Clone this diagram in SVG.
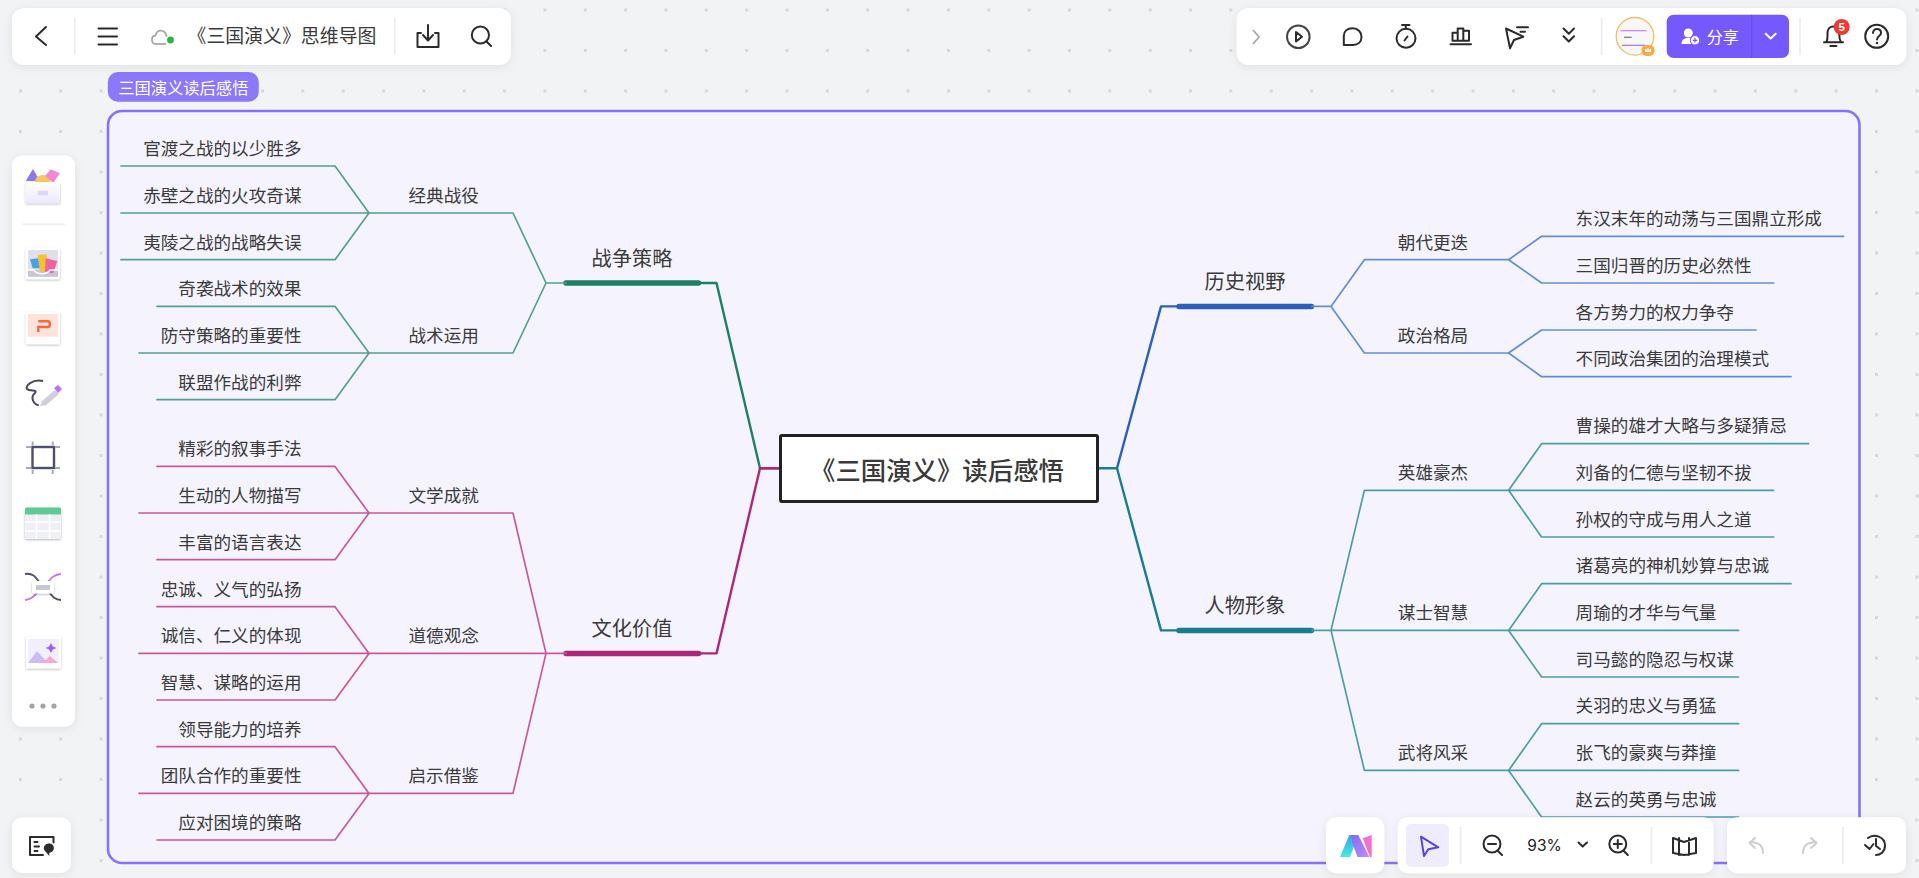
<svg xmlns="http://www.w3.org/2000/svg" width="1919" height="878" viewBox="0 0 1919 878">
<style>
text{font-family:"Noto Sans CJK SC","Noto Sans",sans-serif;fill:#3a3a3a}
.leaf{font-size:17.6px}
.sub{font-size:17.6px;text-anchor:middle}
.main{font-size:20.2px;text-anchor:middle}
.e{text-anchor:end}
.c path{fill:none;stroke-linejoin:round;stroke-linecap:round}
.g1{stroke:#1f7f62;stroke-width:2.4}.g2{stroke:#569f8c;stroke-width:1.7}.gt{stroke:#1f7f62;stroke-width:5.5}
.m1{stroke:#ad2779;stroke-width:2.4}.m2{stroke:#c8589c;stroke-width:1.7}.mt{stroke:#ad2779;stroke-width:5.5}
.b1{stroke:#2a60b9;stroke-width:2.4}.b2{stroke:#648dce;stroke-width:1.7}.bt{stroke:#2a60b9;stroke-width:5.5}
.t1{stroke:#1a7d8e;stroke-width:2.4}.t2{stroke:#4c9ca6;stroke-width:1.7}.tt{stroke:#1a7d8e;stroke-width:5.5}
.panel{fill:#fff;filter:url(#sh)}
.sep{stroke:#ebebee;stroke-width:1.6}
.ic{fill:none;stroke:#2b2b2b;stroke-width:2;stroke-linecap:round;stroke-linejoin:round}
.gr{fill:none;stroke:#cfcfd2;stroke-width:2;stroke-linecap:round;stroke-linejoin:round}
</style>
<defs>
<pattern id="dots" x="18.9" y="8.5" width="40.35" height="40.5" patternUnits="userSpaceOnUse"><rect width="3" height="3" fill="#d6d7db"/></pattern>
<filter id="sh" x="-20%" y="-40%" width="140%" height="190%"><feDropShadow dx="0" dy="2" stdDeviation="5" flood-color="#000" flood-opacity="0.08"/></filter>
<filter id="sm" x="-30%" y="-30%" width="160%" height="170%"><feDropShadow dx="0" dy="1" stdDeviation="1.2" flood-color="#000" flood-opacity="0.28"/></filter>
<linearGradient id="box" x1="0" y1="0" x2="0" y2="1"><stop offset="0" stop-color="#fff"/><stop offset="1" stop-color="#ece8fd"/></linearGradient>
<linearGradient id="lg1" x1="0" y1="0" x2="0" y2="1"><stop offset="0" stop-color="#3a9bf5"/><stop offset="1" stop-color="#45f0d8"/></linearGradient>
<linearGradient id="lg2" x1="0" y1="0" x2="1" y2="1"><stop offset="0" stop-color="#7f6cf8"/><stop offset="1" stop-color="#c58cf8"/></linearGradient>
</defs>
<rect width="1919" height="878" fill="#f2f3f5"/>
<rect width="1919" height="878" fill="url(#dots)"/>

<g id="frame">
<rect x="108" y="111" width="1751.5" height="752" rx="14" fill="#f5f4fe" stroke="#8572fa" stroke-width="2.6"/>
<rect x="107.8" y="72" width="151" height="29.7" rx="10" fill="#8b78fb"/>
<text x="183.3" y="94" font-size="16.3" text-anchor="middle" style="fill:#fff">三国演义读后感悟</text>
</g>

<g id="connectors" class="c">
<path class="g1" d="M780 468.3H760L716.5 283H701"/>
<path class="gt" d="M566 283H698.500"/>
<path class="g2" d="M566 283H546L513 213H369M546 283L513 353H369"/>
<path class="g2" d="M369 213L335 166H121M369 213H121M369 213L335 259.7H121"/>
<path class="g2" d="M369 353L335 306.3H157M369 353H139M369 353L335 399.7H157"/>

<path class="m1" d="M760 468.3L716.5 653.4H701"/>
<path class="m1" d="M780 468.3H760"/>
<path class="mt" d="M566 653.4H698.500"/>
<path class="m2" d="M566 653.4H546L513 513H369M546 653.4H369M546 653.4L513 793.4H369"/>
<path class="m2" d="M369 513L335 466.4H157M369 513H139M369 513L335 559.7H157"/>
<path class="m2" d="M369 653.4L335 606.7H157M369 653.4H139M369 653.4L335 700H157"/>
<path class="m2" d="M369 793.4L335 746.7H157M369 793.4H139M369 793.4L335 840H157"/>

<path class="b1" d="M1117 468.3L1161 306.4H1178"/>
<path class="bt" d="M1179 306.4H1311.500"/>
<path class="b2" d="M1312 306.4H1331L1364.4 259.7H1508.6M1331 306.4L1364.4 353H1508.6"/>
<path class="b2" d="M1508.6 259.7L1541.6 236.3H1843.6M1508.6 259.7L1541.6 283H1773.6"/>
<path class="b2" d="M1508.6 353L1541.6 330H1756M1508.6 353L1541.6 376.7H1791"/>

<path class="t1" d="M1098 468.3H1117L1161 630.4H1178"/>
<path class="tt" d="M1179 630.4H1311.500"/>
<path class="t2" d="M1312 630.4H1508.6M1331 630.4L1364.4 490.3H1508.6M1331 630.4L1364.4 770.4H1508.6"/>
<path class="t2" d="M1508.6 490.3L1541.6 443.7H1808.6M1508.6 490.3H1773.6M1508.6 490.3L1541.6 537H1773.6"/>
<path class="t2" d="M1508.6 630.4L1541.6 583.7H1791M1508.6 630.4H1738.6M1508.6 630.4L1541.6 677H1738.6"/>
<path class="t2" d="M1508.6 770.4L1541.6 723.7H1738.6M1508.6 770.4H1738.6M1508.6 770.4L1541.6 817H1738.6"/>
</g>

<g id="root">
<rect x="780.5" y="435.5" width="317" height="66" rx="1.5" fill="#fff" stroke="#222" stroke-width="3"/>
<text x="810" y="480" font-size="25.4" font-weight="500">《三国演义》读后感悟</text>
</g>

<g id="n-war"><text class="main" x="632" y="266">战争策略</text></g>
<g id="n-war-1"><text class="sub" x="443.7" y="201.7">经典战役</text></g>
<g id="n-war-1-1"><text class="leaf e" x="301.5" y="155">官渡之战的以少胜多</text></g>
<g id="n-war-1-2"><text class="leaf e" x="301.5" y="202">赤壁之战的火攻奇谋</text></g>
<g id="n-war-1-3"><text class="leaf e" x="301.5" y="248.7">夷陵之战的战略失误</text></g>
<g id="n-war-2"><text class="sub" x="443.7" y="341.7">战术运用</text></g>
<g id="n-war-2-1"><text class="leaf e" x="301.5" y="295.3">奇袭战术的效果</text></g>
<g id="n-war-2-2"><text class="leaf e" x="301.5" y="342">防守策略的重要性</text></g>
<g id="n-war-2-3"><text class="leaf e" x="301.5" y="388.7">联盟作战的利弊</text></g>

<g id="n-cul"><text class="main" x="632" y="636.4">文化价值</text></g>
<g id="n-cul-1"><text class="sub" x="443.7" y="501.7">文学成就</text></g>
<g id="n-cul-1-1"><text class="leaf e" x="301.5" y="455.4">精彩的叙事手法</text></g>
<g id="n-cul-1-2"><text class="leaf e" x="301.5" y="502">生动的人物描写</text></g>
<g id="n-cul-1-3"><text class="leaf e" x="301.5" y="548.7">丰富的语言表达</text></g>
<g id="n-cul-2"><text class="sub" x="443.7" y="642.1">道德观念</text></g>
<g id="n-cul-2-1"><text class="leaf e" x="301.5" y="595.7">忠诚、义气的弘扬</text></g>
<g id="n-cul-2-2"><text class="leaf e" x="301.5" y="642.4">诚信、仁义的体现</text></g>
<g id="n-cul-2-3"><text class="leaf e" x="301.5" y="689">智慧、谋略的运用</text></g>
<g id="n-cul-3"><text class="sub" x="443.7" y="782.1">启示借鉴</text></g>
<g id="n-cul-3-1"><text class="leaf e" x="301.5" y="735.7">领导能力的培养</text></g>
<g id="n-cul-3-2"><text class="leaf e" x="301.5" y="782.4">团队合作的重要性</text></g>
<g id="n-cul-3-3"><text class="leaf e" x="301.5" y="829">应对困境的策略</text></g>

<g id="n-his"><text class="main" x="1245" y="289">历史视野</text></g>
<g id="n-his-1"><text class="sub" x="1433" y="248.700">朝代更迭</text></g>
<g id="n-his-1-1"><text class="leaf" x="1575.6" y="225">东汉末年的动荡与三国鼎立形成</text></g>
<g id="n-his-1-2"><text class="leaf" x="1575.6" y="271.700">三国归晋的历史必然性</text></g>
<g id="n-his-2"><text class="sub" x="1433" y="341.700">政治格局</text></g>
<g id="n-his-2-1"><text class="leaf" x="1575.6" y="318.700">各方势力的权力争夺</text></g>
<g id="n-his-2-2"><text class="leaf" x="1575.6" y="365.400">不同政治集团的治理模式</text></g>

<g id="n-per"><text class="main" x="1245" y="613.200">人物形象</text></g>
<g id="n-per-1"><text class="sub" x="1433" y="479">英雄豪杰</text></g>
<g id="n-per-1-1"><text class="leaf" x="1575.6" y="432.400">曹操的雄才大略与多疑猜忌</text></g>
<g id="n-per-1-2"><text class="leaf" x="1575.6" y="479">刘备的仁德与坚韧不拔</text></g>
<g id="n-per-1-3"><text class="leaf" x="1575.6" y="525.700">孙权的守成与用人之道</text></g>
<g id="n-per-2"><text class="sub" x="1433" y="619.100">谋士智慧</text></g>
<g id="n-per-2-1"><text class="leaf" x="1575.6" y="572.400">诸葛亮的神机妙算与忠诚</text></g>
<g id="n-per-2-2"><text class="leaf" x="1575.6" y="619.100">周瑜的才华与气量</text></g>
<g id="n-per-2-3"><text class="leaf" x="1575.6" y="665.700">司马懿的隐忍与权谋</text></g>
<g id="n-per-3"><text class="sub" x="1433" y="759.100">武将风采</text></g>
<g id="n-per-3-1"><text class="leaf" x="1575.6" y="712.400">关羽的忠义与勇猛</text></g>
<g id="n-per-3-2"><text class="leaf" x="1575.6" y="759.100">张飞的豪爽与莽撞</text></g>
<g id="n-per-3-3"><text class="leaf" x="1575.6" y="805.700">赵云的英勇与忠诚</text></g>

<g id="toolbar-top-left">
<rect class="panel" x="12" y="8" width="499" height="57" rx="12"/>
<path class="ic" d="M46 27L36 36.5L46 45"/>
<line class="sep" x1="74.7" y1="18" x2="74.7" y2="55"/>
<path class="ic" d="M98.5 28.5H117M98.5 36.5H117M98.5 44.5H117"/>
<path d="M156 44C151 44 150.500 36 155.500 35.500C157 29 165 29 166.500 36" fill="none" stroke="#a9a9ad" stroke-width="1.800" stroke-linecap="round"/>
<path d="M156 44H166" stroke="#a9a9ad" stroke-width="1.800"/>
<circle cx="170.500" cy="40" r="3.400" fill="#2fb344"/>
<text x="187.500" y="42.800" font-size="18.900">《三国演义》思维导图</text>
<line class="sep" x1="394.700" y1="18" x2="394.700" y2="55"/>
<path class="ic" d="M421 33H417.500V47H438.500V33H435M428 25V40M423 35L428 40.500L433 35"/>
<circle class="ic" cx="480.400" cy="35" r="8.600"/>
<path class="ic" d="M486.500 41.500L491 46"/>
</g>

<g id="toolbar-top-right">
<rect class="panel" x="1236.700" y="8" width="669.700" height="57" rx="12"/>
<path d="M1253 30L1259 37L1253 44" fill="none" stroke="#a8a8ac" stroke-width="1.800"/>
<circle cx="1298.300" cy="36.700" r="11.300" fill="none" stroke="#444" stroke-width="2"/>
<path class="ic" d="M1296 32L1302 36.700L1296 41.400Z"/>
<path class="ic" d="M1343.800 45V36C1343.800 31 1347.500 28.300 1352.500 28.300C1358 28.300 1361.500 32 1361.500 37C1361.500 42 1358 45 1353 45Z"/>
<circle class="ic" cx="1406" cy="38.300" r="9.500"/>
<path class="ic" d="M1402 25H1409.500M1405.800 25V28.500M1404.500 40.500L1407.500 36.500"/>
<path class="ic" d="M1450.500 44.300H1471M1452.500 40.700V32.700H1457.700V40.700M1457.700 40.700V28.600H1463.300V40.700M1463.300 40.700V30.800H1469V40.700H1452.500" stroke-linecap="butt"/>
<path class="ic" d="M1506 28.500L1510 48.300L1514 40L1523.300 36.700ZM1517 27.300H1528M1520.500 31.700H1525"/>
<path class="ic" d="M1563.500 28.500L1568.800 33.700L1574 28.500M1563.500 36.300L1568.800 41.500L1574 36.300"/>
<line class="sep" x1="1601.700" y1="18" x2="1601.700" y2="55"/>
<g id="avatar">
<circle cx="1635" cy="36.300" r="18.800" fill="#f7f7f8" stroke="#f2bd63" stroke-width="1.300"/>
<path d="M1620.700 30.700H1646.700" stroke="#d37bf0" stroke-width="1.200"/>
<path d="M1624 37.300H1631.700" stroke="#777" stroke-width="1.200"/>
<path d="M1622 45.300H1645" stroke="#b06bd8" stroke-width="1.200"/>
<rect x="1641.500" y="45" width="13" height="11" rx="5" fill="#f6ab45"/>
<path d="M1645 52H1651V48.500L1649 50L1648 47.500L1647 50L1645 48.500Z" fill="#fff"/>
</g>
<rect x="1666.700" y="14.700" width="122.300" height="43.300" rx="7" fill="#7559fc"/>
<path d="M1751.700 14.700V58" stroke="#674bea" stroke-width="1"/>
<circle cx="1688.300" cy="33" r="4.500" fill="#fff"/>
<path d="M1681.500 44C1681.500 39.500 1684.500 38 1688.300 38C1690 38 1691.500 38.300 1692.500 39L1691 44Z" fill="#fff"/>
<circle cx="1695" cy="40.300" r="4.700" fill="#fff" stroke="#7559fc" stroke-width="1"/>
<path d="M1692.700 40.300H1697.300M1695 38V42.600" stroke="#7559fc" stroke-width="1.200"/>
<text x="1706.700" y="43" font-size="16" style="fill:#fff">分享</text>
<path d="M1765.700 33.800L1770.700 38.500L1775.700 33.800" fill="none" stroke="#fff" stroke-width="2" stroke-linecap="round" stroke-linejoin="round"/>
<line class="sep" x1="1800" y1="18" x2="1800" y2="55"/>
<path class="ic" d="M1824 42.300H1843M1826.300 42.300C1828 39 1827.500 37 1827.500 33C1827.500 29 1830 26.500 1833.300 26.500C1837 26.500 1839.300 29 1839.300 33C1839.300 37 1839 39 1841 42.300M1830.300 46H1836.500"/>
<circle cx="1841.700" cy="27" r="8" fill="#ee3a32"/>
<text x="1841.700" y="31" font-size="11.500" font-weight="700" text-anchor="middle" style="fill:#fff;font-family:'Liberation Sans',sans-serif">5</text>
<circle class="ic" cx="1876.700" cy="36.300" r="11.500"/>
<path class="ic" d="M1873 33C1873 27.500 1881 28 1881 33C1881 36 1877 36 1877 39.500" stroke-width="1.800"/>
<circle cx="1877" cy="43" r="1.200" fill="#2b2b2b"/>
</g>

<g id="toolbar-left">
<rect class="panel" x="12" y="155.600" width="63" height="571" rx="10"/>
<g id="tool-templates">
<path d="M25.700 181L33 169L40 181Z" fill="#8f76f4"/>
<circle cx="42.700" cy="183" r="8" fill="#f8c860"/>
<path d="M45 176L50.700 169.300L60 173.300L53.300 182.700Z" fill="#f08ad0"/>
<rect x="25.700" y="182" width="34.300" height="21.300" rx="1.500" fill="url(#box)" filter="url(#sm)"/>
<rect x="37.700" y="190.700" width="10.300" height="4.600" fill="#dcd8f8"/>
</g>
<line x1="22.300" y1="224.300" x2="65" y2="224.300" stroke="#eeeeef" stroke-width="1.500"/>
<g id="tool-sticky">
<rect x="25.700" y="247.300" width="34.300" height="32" rx="1.500" fill="#fff" filter="url(#sm)"/>
<rect x="28" y="250" width="30" height="26.700" fill="#dfe1ea"/>
<rect x="28" y="270" width="30" height="6.700" fill="#c5c8d4"/>
<path d="M30 259.300L38.300 258.300L40.700 268.300L32.700 268.300Z" fill="#4aa0e6"/>
<path d="M37.700 255L46.700 254.300L47.300 271.700L40 271.700Z" fill="#f6c32f"/>
<path d="M45.700 258.300L57.300 261L53.300 273.300L45 271.700Z" fill="#f3629d"/>
<path d="M28 270H34C36 274 46 276 50 270H58" fill="none" stroke="#fff" stroke-width="1.500"/>
</g>
<g id="tool-slide">
<rect x="25.700" y="312.300" width="34.300" height="32" rx="1.500" fill="#fff" filter="url(#sm)"/>
<rect x="27.700" y="314" width="30.600" height="22.700" fill="#fee3db"/>
<path d="M38.300 332V327H48C50.500 327 50.500 321.300 48 321.300H38.300" fill="none" stroke="#f4683f" stroke-width="2.400"/>
</g>
<g id="tool-pen">
<path d="M43 381C32 379 25 386 27 389C30 392 38 389 35 393C31 396 31 405 42 406" fill="none" stroke="#474764" stroke-width="2"/>
<path d="M41 401L55 389L60 394L46 406L39 407Z" fill="#cfd0dc" stroke="#fff" stroke-width="1.500"/>
<path d="M54 388L58 385L62 389L58 393Z" fill="#c373f0"/>
</g>
<g id="tool-frame">
<rect x="32.500" y="447" width="21.500" height="21" fill="#fff" stroke="#4d4f6e" stroke-width="2.400"/>
<path d="M26 447H31M55 447H60M26 468H31M55 468H60M32.700 441.500V445.500M52.700 441.500V445.500M32.700 470V474M52.700 470V474" stroke="#a8aab9" stroke-width="2" fill="none"/>
</g>
<g id="tool-table">
<rect x="25" y="507.500" width="36" height="31.500" rx="1.500" fill="#eff0f5" filter="url(#sm)"/>
<path d="M26.500 507.500H59.500A1.500 1.500 0 0 1 61 509V514.400H25V509A1.500 1.500 0 0 1 26.500 507.500Z" fill="#5fc998"/>
<path d="M25 522H61M25 531H61M36.500 514.400V539M49.500 514.400V539" stroke="#fff" stroke-width="1.600"/>
</g>
<g id="tool-connector">
<path d="M25 574C36 572 38 583 44 587C50 591 52 600 61 600" fill="none" stroke="#4d4f6e" stroke-width="1.800"/>
<path d="M25 600C34 600 38 590 43 587C48 583 52 574 61 574" fill="none" stroke="#c37ae8" stroke-width="1.800"/>
<rect x="32" y="581" width="22" height="12.500" rx="2" fill="#fff" filter="url(#sm)"/>
<rect x="36" y="585" width="14" height="5" fill="#c6c7d4"/>
</g>
<g id="tool-image">
<rect x="26" y="636.500" width="35" height="32" rx="1.500" fill="#fff" filter="url(#sm)"/>
<rect x="28" y="639" width="31" height="24" fill="#f2effd"/>
<path d="M28 663L37 651L48 663Z" fill="#cdbcf2"/>
<path d="M42 663L50 656L58 663Z" fill="#f7a8d0"/>
<path d="M51 643L52.800 646.500L56.500 648L52.800 649.500L51 653L49.200 649.500L45.500 648L49.200 646.500Z" fill="#a15cf0"/>
</g>
<circle cx="32" cy="706" r="2.600" fill="#a3a3a6"/><circle cx="43" cy="706" r="2.600" fill="#a3a3a6"/><circle cx="54" cy="706" r="2.600" fill="#a3a3a6"/>
</g>

<g id="toolbar-bottom-left">
<rect class="panel" x="12" y="817.600" width="59" height="55.400" rx="10"/>
<path class="ic" d="M53.500 842.500V837H30V855H43M34.500 842H37.500M34.500 846.500H39M34.500 851H37.500" stroke-width="1.700"/>
<path d="M49.300 843.500A4.600 4.600 0 0 1 49.300 852.700L49.300 856L45.500 851.500A4.600 4.600 0 0 1 49.300 843.500Z" fill="#2b2b2b"/>
</g>

<g id="toolbar-bottom">
<rect class="panel" x="1326" y="817.300" width="58.300" height="56" rx="10"/>
<path d="M1340 857L1349.300 835H1358.300L1350 857Z" fill="url(#lg1)"/>
<path d="M1352 835H1358.300L1369.300 857H1357.500L1352 842Z" fill="url(#lg2)"/>
<path d="M1362.700 838.300L1371.700 835V857H1370Z" fill="#f56fd0"/>
<rect class="panel" x="1397.700" y="817.300" width="316" height="56" rx="10"/>
<rect x="1406" y="824" width="43" height="42.700" rx="5" fill="#efecfe"/>
<path d="M1421 836.700L1438.300 847.300L1428.300 849.300L1424 856Z" fill="none" stroke="#5b43d8" stroke-width="2" stroke-linejoin="round"/>
<line class="sep" x1="1460.700" y1="827" x2="1460.700" y2="864"/>
<circle class="ic" cx="1492" cy="844" r="8.500"/>
<path class="ic" d="M1488 844H1496M1498 851L1502 855"/>
<text x="1544.500" y="851" font-size="15.500" text-anchor="middle" style="font-family:'Inter','Liberation Sans',sans-serif;fill:#222">93%</text>
<path class="ic" d="M1578.500 842.500L1582.700 846.500L1587 842.500" stroke-width="1.600"/>
<circle class="ic" cx="1617.800" cy="844" r="8.500"/>
<path class="ic" d="M1613.800 844H1621.800M1617.800 840V848M1623.800 851L1627.800 855"/>
<line class="sep" x1="1651.400" y1="827" x2="1651.400" y2="864"/>
<path class="ic" d="M1673 838L1684 842L1696 838V853L1684 855L1673 853ZM1679 838V855M1689 838V855" stroke-width="1.800"/>
<rect class="panel" x="1727" y="817.300" width="179" height="56" rx="10"/>
<path class="gr" d="M1763 853C1763 845 1758 842 1750 842M1755 838L1749.500 843L1755 848"/>
<path class="gr" d="M1803 853C1803 845 1808 842 1816 842M1811 838L1816.500 843L1811 848"/>
<line class="sep" x1="1843" y1="827" x2="1843" y2="864"/>
<path class="ic" d="M1868 838C1874 833 1885 837 1885 845.500C1885 852 1880 855 1876 855M1865 845L1869.500 849L1873.500 844M1876 839V846L1880 849" stroke-width="1.800"/>
</g>
</svg>
